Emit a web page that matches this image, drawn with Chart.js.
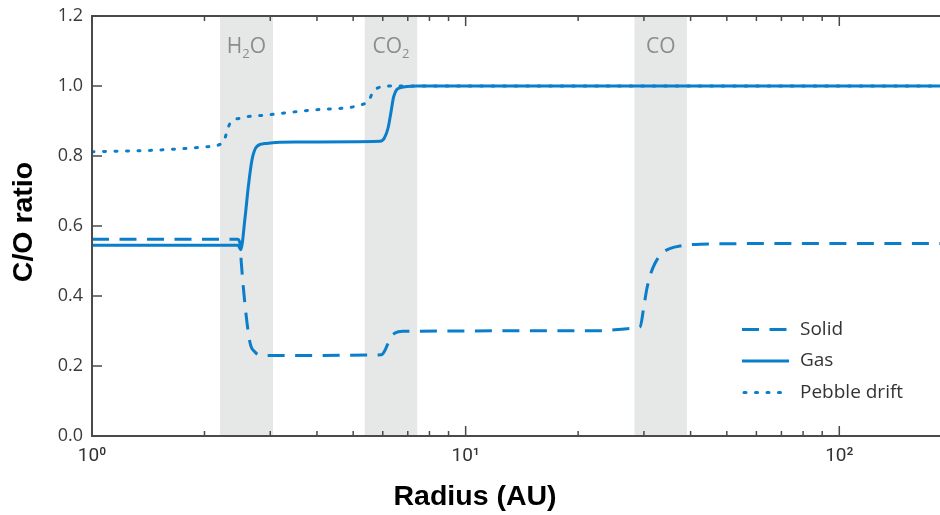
<!DOCTYPE html>
<html>
<head>
<meta charset="utf-8">
<script src="https://cdn.jsdelivr.net/npm/chart.js@4/dist/chart.umd.min.js"></script>
<style>
  body { margin: 0; background: #fff; }
  canvas { display: block; }
</style>
</head>
<body>
<canvas id="coChart" width="940" height="515"></canvas>
<script>
// ice lines (AU)
const bandLabels = ['H2O', 'CO2', 'CO'];
const bandStart = [2.2, 5.37, 28.3];
const bandEnd = [3.05, 7.42, 39.1];

// Solid (dashed)
const solidR  = [1, 2.45, 2.49, 2.51, 2.57, 2.65, 2.73, 2.82, 3.2, 5.95, 6.09, 6.27, 6.47, 6.8, 22.9, 28.1, 29.3, 29.9, 30.5, 31.2, 32.1, 33.5, 35.3, 37.5, 42.4, 78.5, 186];
const solidCO = [0.562, 0.562, 0.55, 0.494, 0.37, 0.265, 0.24, 0.231, 0.23, 0.232, 0.246, 0.277, 0.294, 0.299, 0.301, 0.308, 0.312, 0.36, 0.417, 0.46, 0.493, 0.522, 0.536, 0.543, 0.548, 0.55, 0.55];

// Gas (solid)
const gasR  = [1, 2.46, 2.50, 2.57, 2.62, 2.68, 2.76, 2.93, 3.5, 5.9, 6.05, 6.2, 6.3, 6.42, 6.67, 7.4, 186];
const gasCO = [0.545, 0.545, 0.532, 0.627, 0.712, 0.789, 0.827, 0.836, 0.84, 0.842, 0.85, 0.88, 0.92, 0.97, 0.995, 1.0, 1.0];

// Pebble drift (dotted)
const pebbleR  = [1, 1.5, 2.0, 2.2, 2.26, 2.29, 2.34, 2.49, 2.93, 4.08, 5.44, 5.55, 5.62, 5.97, 6.5, 186];
const pebbleCO = [0.812, 0.817, 0.826, 0.833, 0.845, 0.865, 0.893, 0.908, 0.917, 0.933, 0.952, 0.965, 0.979, 0.998, 1.0, 1.0];

const xMajor = [1, 10, 100];
const xMinor = [2, 3, 4, 5, 6, 7, 8, 9, 20, 30, 40, 50, 60, 70, 80, 90];
const xTickLabels = ['10⁰', '10¹', '10²'];
const yTicks = [0, 0.2, 0.4, 0.6, 0.8, 1.0, 1.2];

const BLUE = '#0a7ecb';
const AXIS = '#4a4a4a';

function toPoints(xs, ys) {
    return xs.map((x, i) => ({ x: x, y: ys[i] }));
}

// text with subscript digits (H2O -> H₂O)
function drawChem(ctx, text, cx, cy, size) {
    const parts = text.split('').map(ch => ({ ch: ch, sub: /[0-9]/.test(ch) }));
    let total = 0;
    parts.forEach(p => {
        ctx.font = (p.sub ? size * 0.62 : size) + 'px "Open Sans"';
        p.w = ctx.measureText(p.ch).width;
        total += p.w;
    });
    let x = cx - total / 2;
    ctx.textBaseline = 'alphabetic';
    ctx.textAlign = 'left';
    parts.forEach(p => {
        ctx.font = (p.sub ? size * 0.62 : size) + 'px "Open Sans"';
        ctx.fillText(p.ch, x, cy + (p.sub ? size * 0.22 : 0));
        x += p.w;
    });
}

const bandsPlugin = {
    id: 'bands',
    beforeDatasetsDraw(chart) {
        const { ctx, chartArea: a, scales: { x } } = chart;
        ctx.save();
        ctx.fillStyle = '#e6e7e7';
        bandStart.forEach((s, i) => {
            const x0 = x.getPixelForValue(s);
            const x1 = x.getPixelForValue(bandEnd[i]);
            ctx.fillRect(x0, a.top, x1 - x0, a.bottom - a.top);
        });
        ctx.fillStyle = '#8c8c8c';
        bandLabels.forEach((t, i) => {
            const c = (x.getPixelForValue(bandStart[i]) + x.getPixelForValue(bandEnd[i])) / 2;
            drawChem(ctx, t, c, a.top + 37, 21);
        });
        ctx.restore();
    }
};

const framePlugin = {
    id: 'frame',
    afterDraw(chart) {
        const { ctx, chartArea: a, scales: { x, y } } = chart;
        ctx.save();
        ctx.strokeStyle = AXIS;
        ctx.lineWidth = 2;
        ctx.beginPath();
        ctx.moveTo(a.left, a.top); ctx.lineTo(a.right, a.top);
        ctx.moveTo(a.left, a.bottom); ctx.lineTo(a.right, a.bottom);
        ctx.moveTo(a.left, a.top - 1); ctx.lineTo(a.left, a.bottom + 1);
        ctx.stroke();

        ctx.lineWidth = 1.5;
        ctx.beginPath();
        yTicks.forEach(v => {
            const py = y.getPixelForValue(v);
            ctx.moveTo(a.left, py); ctx.lineTo(a.left + 10, py);
        });
        xMajor.forEach(v => {
            const px = x.getPixelForValue(v);
            ctx.moveTo(px, a.bottom); ctx.lineTo(px, a.bottom - 10);
            ctx.moveTo(px, a.top); ctx.lineTo(px, a.top + 10);
        });
        xMinor.forEach(v => {
            const px = x.getPixelForValue(v);
            ctx.moveTo(px, a.bottom); ctx.lineTo(px, a.bottom - 5);
            ctx.moveTo(px, a.top); ctx.lineTo(px, a.top + 5);
        });
        ctx.stroke();

        // axis titles
        ctx.fillStyle = '#000';
        ctx.font = 'bold 28.5px "Liberation Sans", Arial, sans-serif';
        ctx.textAlign = 'center';
        ctx.textBaseline = 'middle';
        ctx.fillText('Radius (AU)', 475, 497);
        ctx.save();
        ctx.translate(24, 222);
        ctx.rotate(-Math.PI / 2);
        ctx.fillText('C/O ratio', 0, 0);
        ctx.restore();

        // legend
        const rows = [329.5, 361, 392.5];
        chart.data.datasets.forEach((ds, i) => {
            ctx.save();
            ctx.strokeStyle = ds.borderColor;
            ctx.lineWidth = ds.borderWidth;
            ctx.lineCap = ds.borderCapStyle || 'butt';
            ctx.setLineDash(ds.borderDash || []);
            ctx.beginPath();
            ctx.moveTo(ds.borderCapStyle === 'round' ? 744 : 742, rows[i]);
            ctx.lineTo(789, rows[i]);
            ctx.stroke();
            ctx.restore();
            ctx.fillStyle = '#333';
            ctx.font = '19px "Open Sans"';
            ctx.textAlign = 'left';
            ctx.textBaseline = 'middle';
            ctx.fillText(ds.label, 800, rows[i]);
        });
        ctx.restore();
    }
};

new Chart(document.getElementById('coChart'), {
    type: 'line',
    data: {
        datasets: [
            {
                label: 'Solid',
                data: toPoints(solidR, solidCO),
                borderColor: BLUE,
                borderWidth: 3,
                borderDash: [17, 10.5],
                cubicInterpolationMode: 'monotone'
            },
            {
                label: 'Gas',
                data: toPoints(gasR, gasCO),
                borderColor: BLUE,
                borderWidth: 3,
                cubicInterpolationMode: 'monotone'
            },
            {
                label: 'Pebble drift',
                data: toPoints(pebbleR, pebbleCO),
                borderColor: BLUE,
                borderWidth: 3,
                borderDash: [2, 9.5],
                borderCapStyle: 'round',
                cubicInterpolationMode: 'monotone'
            }
        ]
    },
    options: {
        responsive: false,
        animation: false,
        layout: { padding: { top: 16, right: 0, left: 0, bottom: 0 } },
        elements: { point: { radius: 0 } },
        plugins: { legend: { display: false }, tooltip: { enabled: false } },
        scales: {
            x: {
                type: 'logarithmic',
                min: 1,
                max: 186,
                grid: { display: false, drawTicks: false },
                border: { display: false },
                afterBuildTicks: s => { s.ticks = xMajor.map(v => ({ value: v })); },
                afterFit: s => { s.height = 79; s.paddingLeft = 0; s.paddingRight = 0; },
                ticks: {
                    autoSkip: false,
                    maxRotation: 0,
                    padding: 9,
                    color: '#333',
                    font: { family: 'Roboto', size: 19 },
                    callback: v => xTickLabels[xMajor.indexOf(v)]
                }
            },
            y: {
                min: 0,
                max: 1.2,
                grid: { display: false, drawTicks: false },
                border: { display: false },
                afterBuildTicks: s => { s.ticks = yTicks.map(v => ({ value: v })); },
                afterFit: s => { s.width = 92; s.paddingTop = 0; s.paddingBottom = 0; },
                ticks: {
                    autoSkip: false,
                    padding: 9,
                    color: '#3a3a3a',
                    font: { family: 'Open Sans', size: 18 },
                    callback: v => v.toFixed(1)
                }
            }
        }
    },
    plugins: [bandsPlugin, framePlugin]
});
</script>
</body>
</html>
